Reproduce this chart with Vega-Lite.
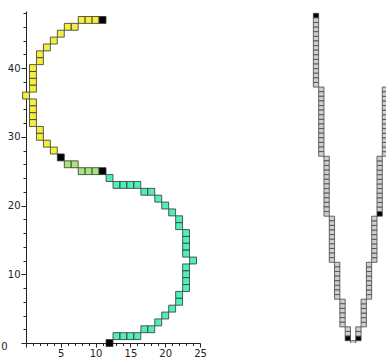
{
  "$schema": "https://vega.github.io/schema/vega-lite/v6.json",
  "background": "white",
  "padding": {"left": 0, "top": 8, "right": 0, "bottom": 0},
  "bounds": "flush",
  "spacing": 100,
  "config": {
    "view": {"stroke": null},
    "font": "DejaVu Sans",
    "axis": {"labelFont": "DejaVu Sans", "labelFontSize": 10, "labelColor": "#222", "domainColor": "#222", "tickColor": "#222", "grid": false, "title": null, "labelOverlap": false, "labelFlush": false}
  },
  "datasets": {
    "curve": [
      {"px": 8, "py": 47, "kind": "upper"}, {"px": 9, "py": 47, "kind": "upper"}, {"px": 10, "py": 47, "kind": "upper"}, {"px": 11, "py": 47, "kind": "node"},
      {"px": 6, "py": 46, "kind": "upper"}, {"px": 7, "py": 46, "kind": "upper"},
      {"px": 5, "py": 45, "kind": "upper"}, {"px": 4, "py": 44, "kind": "upper"}, {"px": 3, "py": 43, "kind": "upper"},
      {"px": 2, "py": 42, "kind": "upper"}, {"px": 2, "py": 41, "kind": "upper"},
      {"px": 1, "py": 40, "kind": "upper"}, {"px": 1, "py": 39, "kind": "upper"}, {"px": 1, "py": 38, "kind": "upper"}, {"px": 1, "py": 37, "kind": "upper"},
      {"px": 0, "py": 36, "kind": "upper"},
      {"px": 1, "py": 35, "kind": "upper"}, {"px": 1, "py": 34, "kind": "upper"}, {"px": 1, "py": 33, "kind": "upper"}, {"px": 1, "py": 32, "kind": "upper"},
      {"px": 2, "py": 31, "kind": "upper"}, {"px": 2, "py": 30, "kind": "upper"},
      {"px": 3, "py": 29, "kind": "upper"}, {"px": 4, "py": 28, "kind": "upper"}, {"px": 5, "py": 27, "kind": "node"},
      {"px": 6, "py": 26, "kind": "bridge"}, {"px": 7, "py": 26, "kind": "bridge"},
      {"px": 8, "py": 25, "kind": "bridge"}, {"px": 9, "py": 25, "kind": "bridge"}, {"px": 10, "py": 25, "kind": "bridge"}, {"px": 11, "py": 25, "kind": "node"},
      {"px": 12, "py": 24, "kind": "lower"},
      {"px": 13, "py": 23, "kind": "lower"}, {"px": 14, "py": 23, "kind": "lower"}, {"px": 15, "py": 23, "kind": "lower"}, {"px": 16, "py": 23, "kind": "lower"},
      {"px": 17, "py": 22, "kind": "lower"}, {"px": 18, "py": 22, "kind": "lower"},
      {"px": 19, "py": 21, "kind": "lower"}, {"px": 20, "py": 20, "kind": "lower"}, {"px": 21, "py": 19, "kind": "lower"},
      {"px": 22, "py": 18, "kind": "lower"}, {"px": 22, "py": 17, "kind": "lower"},
      {"px": 23, "py": 16, "kind": "lower"}, {"px": 23, "py": 15, "kind": "lower"}, {"px": 23, "py": 14, "kind": "lower"}, {"px": 23, "py": 13, "kind": "lower"},
      {"px": 24, "py": 12, "kind": "lower"},
      {"px": 23, "py": 11, "kind": "lower"}, {"px": 23, "py": 10, "kind": "lower"}, {"px": 23, "py": 9, "kind": "lower"}, {"px": 23, "py": 8, "kind": "lower"},
      {"px": 22, "py": 7, "kind": "lower"}, {"px": 22, "py": 6, "kind": "lower"},
      {"px": 21, "py": 5, "kind": "lower"}, {"px": 20, "py": 4, "kind": "lower"}, {"px": 19, "py": 3, "kind": "lower"},
      {"px": 17, "py": 2, "kind": "lower"}, {"px": 18, "py": 2, "kind": "lower"},
      {"px": 13, "py": 1, "kind": "lower"}, {"px": 14, "py": 1, "kind": "lower"}, {"px": 15, "py": 1, "kind": "lower"}, {"px": 16, "py": 1, "kind": "lower"},
      {"px": 12, "py": 0, "kind": "node"}
    ],
    "vee": [
      {"step": 0, "level": 71, "kind": "node"}, {"step": 0, "level": 70, "kind": "cell"}, {"step": 0, "level": 69, "kind": "cell"}, {"step": 0, "level": 68, "kind": "cell"}, {"step": 0, "level": 67, "kind": "cell"}, {"step": 0, "level": 66, "kind": "cell"}, {"step": 0, "level": 65, "kind": "cell"}, {"step": 0, "level": 64, "kind": "cell"}, {"step": 0, "level": 63, "kind": "cell"}, {"step": 0, "level": 62, "kind": "cell"}, {"step": 0, "level": 61, "kind": "cell"}, {"step": 0, "level": 60, "kind": "cell"}, {"step": 0, "level": 59, "kind": "cell"}, {"step": 0, "level": 58, "kind": "cell"}, {"step": 0, "level": 57, "kind": "cell"}, {"step": 0, "level": 56, "kind": "cell"},
      {"step": 1, "level": 55, "kind": "cell"}, {"step": 1, "level": 54, "kind": "cell"}, {"step": 1, "level": 53, "kind": "cell"}, {"step": 1, "level": 52, "kind": "cell"}, {"step": 1, "level": 51, "kind": "cell"}, {"step": 1, "level": 50, "kind": "cell"}, {"step": 1, "level": 49, "kind": "cell"}, {"step": 1, "level": 48, "kind": "cell"}, {"step": 1, "level": 47, "kind": "cell"}, {"step": 1, "level": 46, "kind": "cell"}, {"step": 1, "level": 45, "kind": "cell"}, {"step": 1, "level": 44, "kind": "cell"}, {"step": 1, "level": 43, "kind": "cell"}, {"step": 1, "level": 42, "kind": "cell"}, {"step": 1, "level": 41, "kind": "cell"},
      {"step": 2, "level": 40, "kind": "cell"}, {"step": 2, "level": 39, "kind": "cell"}, {"step": 2, "level": 38, "kind": "cell"}, {"step": 2, "level": 37, "kind": "cell"}, {"step": 2, "level": 36, "kind": "cell"}, {"step": 2, "level": 35, "kind": "cell"}, {"step": 2, "level": 34, "kind": "cell"}, {"step": 2, "level": 33, "kind": "cell"}, {"step": 2, "level": 32, "kind": "cell"}, {"step": 2, "level": 31, "kind": "cell"}, {"step": 2, "level": 30, "kind": "cell"}, {"step": 2, "level": 29, "kind": "cell"}, {"step": 2, "level": 28, "kind": "cell"},
      {"step": 3, "level": 27, "kind": "cell"}, {"step": 3, "level": 26, "kind": "cell"}, {"step": 3, "level": 25, "kind": "cell"}, {"step": 3, "level": 24, "kind": "cell"}, {"step": 3, "level": 23, "kind": "cell"}, {"step": 3, "level": 22, "kind": "cell"}, {"step": 3, "level": 21, "kind": "cell"}, {"step": 3, "level": 20, "kind": "cell"}, {"step": 3, "level": 19, "kind": "cell"}, {"step": 3, "level": 18, "kind": "cell"},
      {"step": 4, "level": 17, "kind": "cell"}, {"step": 4, "level": 16, "kind": "cell"}, {"step": 4, "level": 15, "kind": "cell"}, {"step": 4, "level": 14, "kind": "cell"}, {"step": 4, "level": 13, "kind": "cell"}, {"step": 4, "level": 12, "kind": "cell"}, {"step": 4, "level": 11, "kind": "cell"}, {"step": 4, "level": 10, "kind": "cell"},
      {"step": 5, "level": 9, "kind": "cell"}, {"step": 5, "level": 8, "kind": "cell"}, {"step": 5, "level": 7, "kind": "cell"}, {"step": 5, "level": 6, "kind": "cell"}, {"step": 5, "level": 5, "kind": "cell"}, {"step": 5, "level": 4, "kind": "cell"},
      {"step": 6, "level": 3, "kind": "cell"}, {"step": 6, "level": 2, "kind": "cell"}, {"step": 6, "level": 1, "kind": "node"},
      {"step": 7, "level": 0, "kind": "cell"},
      {"step": 8, "level": 1, "kind": "node"}, {"step": 8, "level": 2, "kind": "cell"}, {"step": 8, "level": 3, "kind": "cell"},
      {"step": 9, "level": 4, "kind": "cell"}, {"step": 9, "level": 5, "kind": "cell"}, {"step": 9, "level": 6, "kind": "cell"}, {"step": 9, "level": 7, "kind": "cell"}, {"step": 9, "level": 8, "kind": "cell"}, {"step": 9, "level": 9, "kind": "cell"},
      {"step": 10, "level": 10, "kind": "cell"}, {"step": 10, "level": 11, "kind": "cell"}, {"step": 10, "level": 12, "kind": "cell"}, {"step": 10, "level": 13, "kind": "cell"}, {"step": 10, "level": 14, "kind": "cell"}, {"step": 10, "level": 15, "kind": "cell"}, {"step": 10, "level": 16, "kind": "cell"}, {"step": 10, "level": 17, "kind": "cell"},
      {"step": 11, "level": 18, "kind": "cell"}, {"step": 11, "level": 19, "kind": "cell"}, {"step": 11, "level": 20, "kind": "cell"}, {"step": 11, "level": 21, "kind": "cell"}, {"step": 11, "level": 22, "kind": "cell"}, {"step": 11, "level": 23, "kind": "cell"}, {"step": 11, "level": 24, "kind": "cell"}, {"step": 11, "level": 25, "kind": "cell"}, {"step": 11, "level": 26, "kind": "cell"}, {"step": 11, "level": 27, "kind": "cell"},
      {"step": 12, "level": 28, "kind": "node"}, {"step": 12, "level": 29, "kind": "cell"}, {"step": 12, "level": 30, "kind": "cell"}, {"step": 12, "level": 31, "kind": "cell"}, {"step": 12, "level": 32, "kind": "cell"}, {"step": 12, "level": 33, "kind": "cell"}, {"step": 12, "level": 34, "kind": "cell"}, {"step": 12, "level": 35, "kind": "cell"}, {"step": 12, "level": 36, "kind": "cell"}, {"step": 12, "level": 37, "kind": "cell"}, {"step": 12, "level": 38, "kind": "cell"}, {"step": 12, "level": 39, "kind": "cell"}, {"step": 12, "level": 40, "kind": "cell"},
      {"step": 13, "level": 41, "kind": "cell"}, {"step": 13, "level": 42, "kind": "cell"}, {"step": 13, "level": 43, "kind": "cell"}, {"step": 13, "level": 44, "kind": "cell"}, {"step": 13, "level": 45, "kind": "cell"}, {"step": 13, "level": 46, "kind": "cell"}, {"step": 13, "level": 47, "kind": "cell"}, {"step": 13, "level": 48, "kind": "cell"}, {"step": 13, "level": 49, "kind": "cell"}, {"step": 13, "level": 50, "kind": "cell"}, {"step": 13, "level": 51, "kind": "cell"}, {"step": 13, "level": 52, "kind": "cell"}, {"step": 13, "level": 53, "kind": "cell"}, {"step": 13, "level": 54, "kind": "cell"}, {"step": 13, "level": 55, "kind": "cell"}
    ]
  },
  "hconcat": [
    {
      "width": 174,
      "height": 332,
      "data": {"name": "curve"},
      "mark": {"type": "rect", "width": 6.9, "height": 6.9, "stroke": "#333333", "strokeWidth": 0.8},
      "encoding": {
        "x": {
          "field": "px", "type": "quantitative",
          "scale": {"domain": [0, 25], "nice": false, "zero": false},
          "axis": {
            "values": [0, 1, 2, 3, 4, 5, 6, 7, 8, 9, 10, 11, 12, 13, 14, 15, 16, 17, 18, 19, 20, 21, 22, 23, 24, 25],
            "labelExpr": "datum.value % 5 === 0 && datum.value > 0 ? datum.label : ''",
            "tickSize": {"condition": {"test": "datum.value % 5 === 0", "value": 4}, "value": 2.5},
            "labelPadding": 1
          }
        },
        "y": {
          "field": "py", "type": "quantitative",
          "scale": {"domain": [0, 48.3], "nice": false, "zero": false},
          "axis": {
            "values": [0, 2, 4, 6, 8, 10, 12, 14, 16, 18, 20, 22, 24, 26, 28, 30, 32, 34, 36, 38, 40, 42, 44, 46, 48],
            "labelExpr": "datum.value % 10 === 0 ? datum.label : ''",
            "tickSize": {"condition": {"test": "datum.value % 10 === 0", "value": 5}, "value": 3},
            "labelPadding": {"condition": {"test": "datum.value === 0", "value": 14}, "value": 1},
            "labelOffset": {"condition": {"test": "datum.value === 0", "value": 3}, "value": 0}
          }
        },
        "fill": {
          "field": "kind", "type": "nominal",
          "scale": {"domain": ["upper", "bridge", "lower", "node"], "range": ["#f4ee3c", "#a9e67a", "#4ff0b6", "#000000"]},
          "legend": null
        }
      }
    },
    {
      "width": 86,
      "height": 332,
      "data": {"name": "vee"},
      "mark": {"type": "rect", "width": 5.3, "height": 4.61, "stroke": "#444444", "strokeWidth": 0.8, "clip": true},
      "encoding": {
        "x": {"field": "step", "type": "quantitative", "scale": {"domain": [-3.02, 13.2], "nice": false, "zero": false}, "axis": null},
        "y": {"field": "level", "type": "quantitative", "scale": {"domain": [0, 72], "nice": false, "zero": false}, "axis": null},
        "fill": {
          "field": "kind", "type": "nominal",
          "scale": {"domain": ["cell", "node"], "range": ["#cfcfcf", "#000000"]},
          "legend": null
        }
      }
    }
  ],
  "resolve": {"scale": {"fill": "independent"}}
}
